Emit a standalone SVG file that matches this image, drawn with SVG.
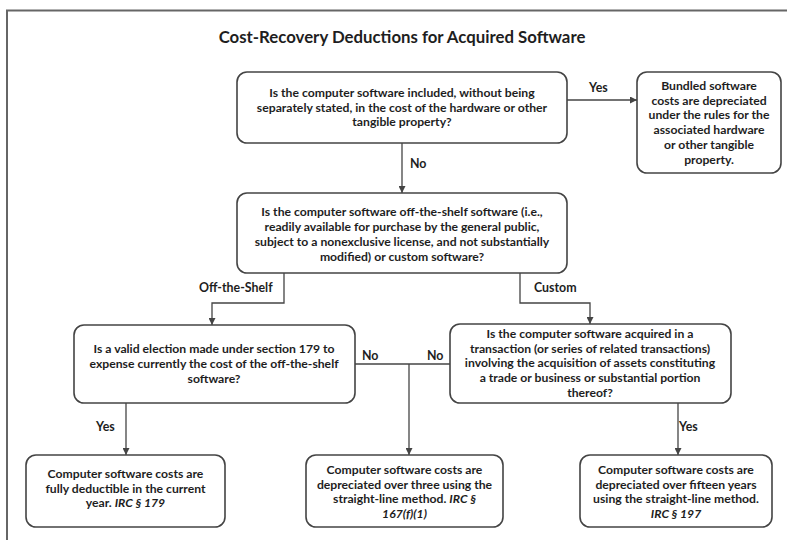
<svg xmlns="http://www.w3.org/2000/svg" width="787" height="540" viewBox="0 0 787 540">
<style>
.box{fill:#fff;stroke:#444;stroke-width:1.6}
.t{font-family:Lato,"Liberation Sans",sans-serif;font-weight:bold;font-size:12.2px;fill:#1e1e1e;text-anchor:middle}
.lbl{font-family:Lato,"Liberation Sans",sans-serif;font-weight:bold;font-size:12.4px;fill:#1e1e1e}
.title{font-family:Lato,"Liberation Sans",sans-serif;font-weight:bold;font-size:16.8px;fill:#1e1e1e;text-anchor:middle}
.c{fill:none;stroke:#444;stroke-width:1.3}
.i{font-style:italic}
</style>
<defs>
<marker id="ah" viewBox="0 0 10 10" refX="10" refY="5" markerWidth="7" markerHeight="7" markerUnits="userSpaceOnUse" orient="auto">
<path d="M0,0 L10,5 L0,10 z" fill="#444"/>
</marker>
</defs>
<rect width="787" height="540" fill="#fff"/>
<path d="M7,540 V10.5 H787" fill="none" stroke="#666" stroke-width="2"/>
<text class="title" x="402" y="43">Cost-Recovery Deductions for Acquired Software</text>

<g id="connectors">
<line class="c" x1="567" y1="100" x2="637" y2="100" marker-end="url(#ah)"/>
<line class="c" x1="402" y1="143" x2="402" y2="193" marker-end="url(#ah)"/>
<polyline class="c" points="284,273 284,303 212,303 212,325" marker-end="url(#ah)"/>
<polyline class="c" points="520,273 520,303 590,303 590,324" marker-end="url(#ah)"/>
<line class="c" x1="355" y1="364" x2="450" y2="364"/>
<line class="c" x1="409" y1="364" x2="409" y2="455" marker-end="url(#ah)"/>
<line class="c" x1="126" y1="403" x2="126" y2="455" marker-end="url(#ah)"/>
<line class="c" x1="678" y1="403" x2="678" y2="455" marker-end="url(#ah)"/>
<text class="lbl" x="589" y="92">Yes</text>
<text class="lbl" x="410" y="168">No</text>
<text class="lbl" x="199" y="292">Off-the-Shelf</text>
<text class="lbl" x="534" y="292">Custom</text>
<text class="lbl" x="362" y="360">No</text>
<text class="lbl" x="427" y="360">No</text>
<text class="lbl" x="96" y="431">Yes</text>
<text class="lbl" x="679" y="431">Yes</text>
</g>

<g id="q1">
<rect class="box" x="237" y="72" width="330" height="71" rx="10"/>
<text class="t" x="402" y="97">Is the computer software included, without being</text>
<text class="t" x="402" y="111.7">separately stated, in the cost of the hardware or other</text>
<text class="t" x="402" y="126.4">tangible property?</text>
</g>

<g id="bundled">
<rect class="box" x="637" y="72" width="144" height="101" rx="10"/>
<text class="t" x="709" y="90">Bundled software</text>
<text class="t" x="709" y="104.7">costs are depreciated</text>
<text class="t" x="709" y="119.4">under the rules for the</text>
<text class="t" x="709" y="134.1">associated hardware</text>
<text class="t" x="709" y="148.8">or other tangible</text>
<text class="t" x="709" y="163.5">property.</text>
</g>

<g id="q2">
<rect class="box" x="237" y="193" width="330" height="80" rx="10"/>
<text class="t" x="402" y="215.5">Is the computer software off-the-shelf software (i.e.,</text>
<text class="t" x="402" y="230.5">readily available for purchase by the general public,</text>
<text class="t" x="402" y="245.5">subject to a nonexclusive license, and not substantially</text>
<text class="t" x="402" y="260.5">modified) or custom software?</text>
</g>

<g id="q3l">
<rect class="box" x="74" y="325" width="281" height="78" rx="10"/>
<text class="t" x="214" y="352.5">Is a valid election made under section 179 to</text>
<text class="t" x="214" y="367.5">expense currently the cost of the off-the-shelf</text>
<text class="t" x="214" y="382.5">software?</text>
</g>

<g id="q3r">
<rect class="box" x="450" y="324" width="281" height="79" rx="10"/>
<text class="t" x="590" y="338">Is the computer software acquired in a</text>
<text class="t" x="590" y="352.7">transaction (or series of related transactions)</text>
<text class="t" x="590" y="367.4">involving the acquisition of assets constituting</text>
<text class="t" x="590" y="382.1">a trade or business or substantial portion</text>
<text class="t" x="590" y="396.8">thereof?</text>
</g>

<g id="r179">
<rect class="box" x="26" y="455" width="199" height="72" rx="10"/>
<text class="t" x="125.5" y="478">Computer software costs are</text>
<text class="t" x="125.5" y="492.7">fully deductible in the current</text>
<text class="t" x="125.5" y="507.4">year.  <tspan class="i">IRC § 179</tspan></text>
</g>

<g id="r167">
<rect class="box" x="306" y="455" width="197" height="72" rx="10"/>
<text class="t" x="404.5" y="474">Computer software costs are</text>
<text class="t" x="404.5" y="488.7">depreciated over three using the</text>
<text class="t" x="404.5" y="503.4">straight-line method.  <tspan class="i">IRC §</tspan></text>
<text class="t i" x="404.5" y="518.1">167(f)(1)</text>
</g>

<g id="r197">
<rect class="box" x="580" y="455" width="192" height="72" rx="10"/>
<text class="t" x="676" y="474">Computer software costs are</text>
<text class="t" x="676" y="488.7">depreciated over fifteen years</text>
<text class="t" x="676" y="503.4">using the straight-line method.</text>
<text class="t i" x="676" y="518.1">IRC § 197</text>
</g>
</svg>
